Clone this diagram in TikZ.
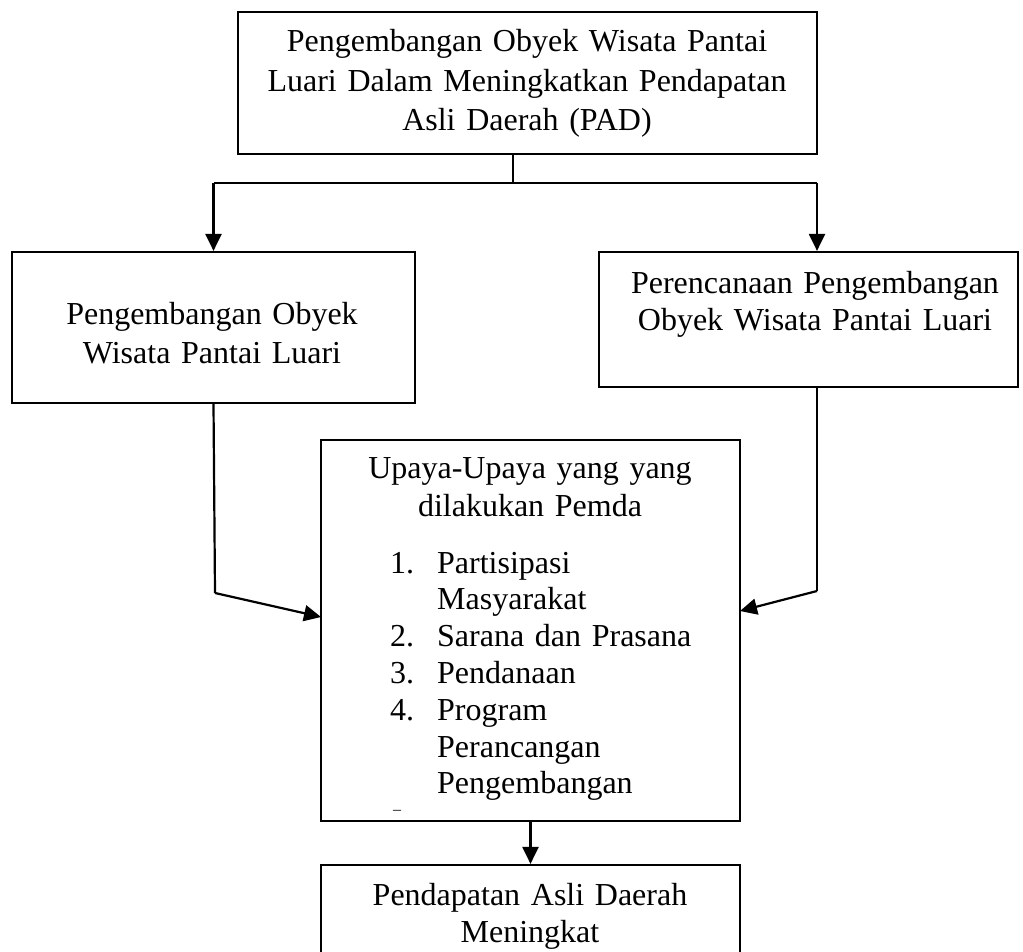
\documentclass[tikz,border=0pt]{standalone}
\usepackage{fontspec}
\setmainfont{Liberation Serif}
\usetikzlibrary{arrows.meta}

\begin{document}
\begin{tikzpicture}[
  x=1pt, y=-1pt,
  box/.style = {
    rectangle, draw=black, line width=2.2pt, inner sep=0pt
  },
  txt/.style = {
    anchor=base, align=center, inner sep=0pt
  },
  arr/.style  = {-{Triangle[length=17pt, width=16pt]}, line width=2.2pt},
  conn/.style = {line width=2.2pt}
]
  \useasboundingbox (0,0) rectangle (1023,952);
  \clip (0,0) rectangle (1023,952);

  % boxes
  \node[box, minimum width=579pt, minimum height=142pt] (pad)    at (527.5,83)    {};
  \node[box, minimum width=403pt, minimum height=151pt] (dev)    at (213.5,327.5) {};
  \node[box, minimum width=419pt, minimum height=135pt] (plan)   at (808.5,319.5) {};
  \node[box, minimum width=419pt, minimum height=381pt] (effort) at (530.5,630.5) {};
  \node[box, minimum width=419pt, minimum height=135pt] (income) at (530.5,932.5) {};

  % texts
  \node[txt, text width=560pt, font=\fontsize{32}{39.5}\selectfont] (padtxt) at (527,52)
    {Pengembangan Obyek Wisata Pantai\\Luari Dalam Meningkatkan Pendapatan\\Asli Daerah (PAD)};
  \node[txt, text width=390pt, font=\fontsize{32}{39}\selectfont] (devtxt) at (212,324)
    {Pengembangan Obyek\\Wisata Pantai Luari};
  \node[txt, text width=400pt, font=\fontsize{32}{37}\selectfont] (plantxt) at (815,293)
    {Perencanaan Pengembangan\\Obyek Wisata Pantai Luari};
  \node[txt, text width=400pt, font=\fontsize{32}{38}\selectfont] (efforttxt) at (530,478)
    {Upaya-Upaya yang yang\\dilakukan Pemda};
  \node[txt, anchor=base west, align=left, text width=340pt, font=\fontsize{32}{36.8}\selectfont] (list) at (390,573)
    {\makebox[47pt][l]{1.}Partisipasi\\
     \hspace*{47pt}Masyarakat\\
     \makebox[47pt][l]{2.}Sarana dan Prasana\\
     \makebox[47pt][l]{3.}Pendanaan\\
     \makebox[47pt][l]{4.}Program\\
     \hspace*{47pt}Perancangan\\
     \hspace*{47pt}Pengembangan};
  \node[inner sep=0pt, font=\fontsize{16}{16}\selectfont] (dash) at (397,812) {–};
  \node[txt, text width=400pt, font=\fontsize{32}{37}\selectfont] (incometxt) at (530,905)
    {Pendapatan Asli Daerah\\Meningkat};

  % junction points
  \coordinate (split) at (513,183);
  \coordinate (bendL) at (215,593);
  \coordinate (bendR) at (817,591);
  \coordinate (inL)   at (321,617);
  \coordinate (inR)   at (740,611);

  \draw[conn] (split |- pad.south) -- (split);
  \draw[conn] (dev.north |- split) -- (bendR |- split);
  \draw[arr]  (dev.north |- split) -- (dev.north);
  \draw[arr]  (bendR |- split)     -- (bendR |- plan.north);
  \draw[conn] (dev.south)          -- (bendL);
  \draw[arr]  (bendL)              -- (inL);
  \draw[conn] (bendR |- plan.south) -- (bendR);
  \draw[arr]  (bendR)              -- (inR);
  \draw[arr]  (effort.south)       -- (income.north);
\end{tikzpicture}
\end{document}
